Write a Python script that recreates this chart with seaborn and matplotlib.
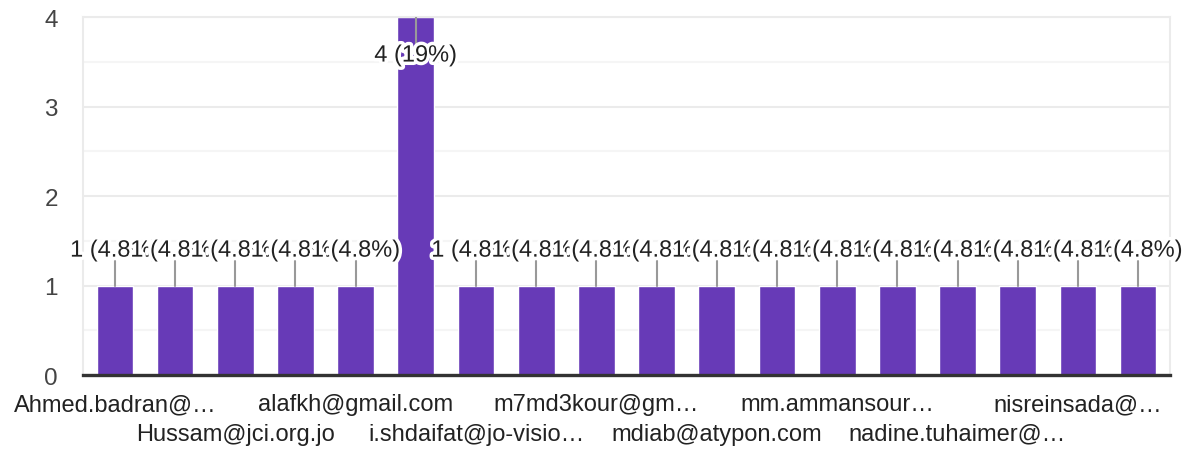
import numpy as np
import pandas as pd
import matplotlib
matplotlib.use("Agg")
import matplotlib.pyplot as plt
import matplotlib.patheffects as pe
import seaborn as sns

# one bar per respondent; only every other name is printed on the axis
labels = ["Ahmed.badran@…", "", "Hussam@jci.org.jo", "", "alafkh@gmail.com", "",
          "i.shdaifat@jo-visio…", "", "m7md3kour@gm…", "", "mdiab@atypon.com", "",
          "mm.ammansour…", "", "nadine.tuhaimer@…", "", "nisreinsada@…", ""]
counts = [1, 1, 1, 1, 1, 4, 1, 1, 1, 1, 1, 1, 1, 1, 1, 1, 1, 1]

df = pd.DataFrame({"slot": range(len(counts)), "count": counts})
total = df["count"].sum()

sns.set_theme(style="white")
plt.rcParams["font.family"] = ["Liberation Sans", "DejaVu Sans"]

fig = plt.figure(figsize=(11.84, 4.52), dpi=100)
ax = fig.add_axes([0.0701, 0.1681, 0.9181, 0.7919])

sns.barplot(data=df, x="slot", y="count", color="#673ab7", saturation=1,
            width=0.61, ax=ax, zorder=2)

ax.set_xlim(-0.53, len(counts) - 0.47)
ax.set_ylim(0, 4)
ax.set_yticks([0, 1, 2, 3, 4])
ax.set_yticks([0.5, 1.5, 2.5, 3.5], minor=True)
ax.grid(axis="y", which="major", color="#ebebeb", lw=1.5, zorder=0)
ax.grid(axis="y", which="minor", color="#f5f5f5", lw=1.5, zorder=0)
ax.set_axisbelow(True)
ax.set_xlabel("")
ax.set_ylabel("")

for side in ["left", "right", "top"]:
    ax.spines[side].set_color("#ebebeb")
    ax.spines[side].set_linewidth(1.5)
ax.spines["bottom"].set_color("#333333")
ax.spines["bottom"].set_linewidth(2.4)
ax.spines["bottom"].set_zorder(5)

# alternate the printed names onto two rows
tick_text = []
row = 0
for lab in labels:
    if lab:
        tick_text.append(lab if row % 2 == 0 else "\n" + lab)
        row += 1
    else:
        tick_text.append("")
ax.set_xticks(range(len(counts)))
ax.set_xticklabels(tick_text, fontsize=17, color="#222222", linespacing=1.45)
ax.tick_params(axis="x", length=0, pad=13)
ax.tick_params(axis="y", length=0, pad=18, labelsize=17.5, labelcolor="#444444")

# value labels with leader lines, drawn in order so later ones overlap
halo = [pe.withStroke(linewidth=5, foreground="white")]
for i, v in enumerate(counts):
    txt = "{} ({:.2g}%)".format(v, 100 * v / total)
    if v + 0.45 > 4:
        ax.plot([i, i], [v, v - 0.3], color="#999999", lw=1.5, zorder=3)
        ax.text(i, v - 0.43, txt, ha="center", va="center", fontsize=17,
                color="#222222", path_effects=halo, zorder=4)
    else:
        ax.plot([i, i], [v, v + 0.27], color="#999999", lw=1.5, zorder=3)
        ax.text(i, v + 0.39, txt, ha="center", va="center", fontsize=17,
                color="#222222", path_effects=halo, zorder=4)

plt.savefig("out.png", dpi=100)
